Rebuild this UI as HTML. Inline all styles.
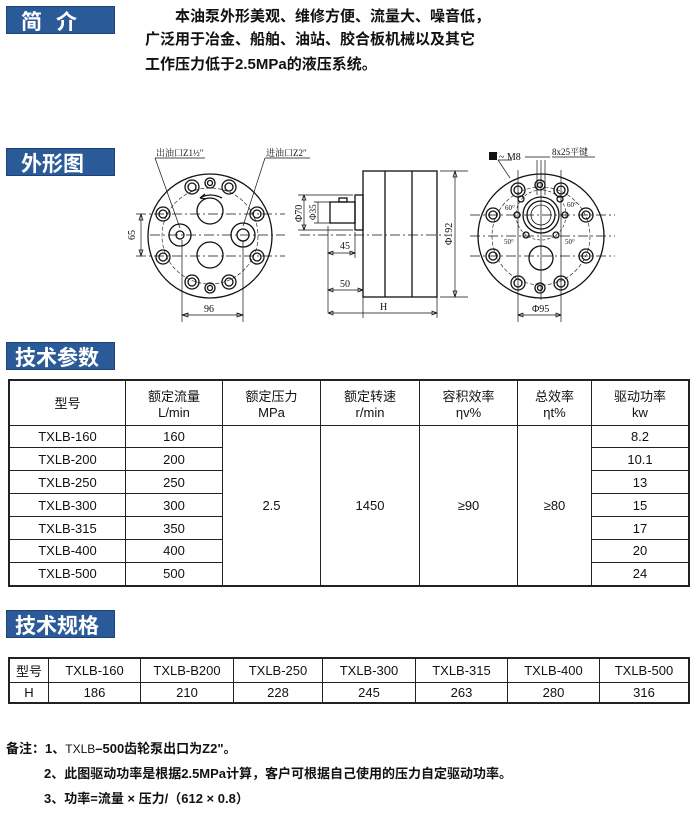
<!DOCTYPE html>
<html><head><meta charset="utf-8">
<style>
body{margin:0;background:#fff;width:700px;height:813px;position:relative;overflow:hidden;font-family:"Liberation Sans","Noto Sans CJK SC",sans-serif;color:#111}
.tt{position:absolute;left:6px;width:109px;height:28px;background:#2a5a98;color:#fff;font-weight:bold;font-size:21px;line-height:28px;font-family:"Noto Sans CJK SC",sans-serif;border:1px solid #1d4275;box-sizing:border-box}
.intro{position:absolute;font-weight:bold;font-size:15px;font-family:"Liberation Sans","Noto Sans CJK SC",sans-serif;white-space:nowrap}
table{position:absolute;border-collapse:collapse;font-size:13px}
td{border:1.5px solid #222;text-align:center;padding:0}
.note{position:absolute;font-size:13px;font-weight:bold;white-space:nowrap;font-family:"Liberation Sans","Noto Sans CJK SC",sans-serif}
</style></head><body>
<div class="tt" style="top:6px;padding-left:14px;letter-spacing:14px">简介</div>
<div class="intro" style="left:175px;top:5px">本油泵外形美观、维修方便、流量大、噪音低，</div>
<div class="intro" style="left:145px;top:28px">广泛用于冶金、船舶、油站、胶合板机械以及其它</div>
<div class="intro" style="left:145px;top:53px">工作压力低于2.5MPa的液压系统。</div>
<div class="tt" style="top:148px;padding-left:14px">外形图</div>

<svg style="position:absolute;left:0;top:0" width="700" height="340" font-family="Liberation Serif,Noto Serif CJK SC,serif" font-size="10" fill="none" stroke="#111">
<g stroke-width="1.3">
<ellipse cx="210" cy="236" rx="62" ry="62"/>
<circle cx="210" cy="236" r="48" stroke-dasharray="4 2" stroke-width="0.6"/>
<g id="bl">
<circle cx="192" cy="187" r="7"/><circle cx="192" cy="187" r="4"/>
<circle cx="229" cy="187" r="7"/><circle cx="229" cy="187" r="4"/>
<circle cx="163" cy="214" r="7"/><circle cx="163" cy="214" r="4"/>
<circle cx="257" cy="214" r="7"/><circle cx="257" cy="214" r="4"/>
<circle cx="163" cy="257" r="7"/><circle cx="163" cy="257" r="4"/>
<circle cx="257" cy="257" r="7"/><circle cx="257" cy="257" r="4"/>
<circle cx="192" cy="282" r="7"/><circle cx="192" cy="282" r="4"/>
<circle cx="229" cy="282" r="7"/><circle cx="229" cy="282" r="4"/>
<circle cx="210" cy="183" r="5"/><circle cx="210" cy="183" r="2.5"/>
<circle cx="210" cy="288" r="5"/><circle cx="210" cy="288" r="2.5"/>
</g>
<circle cx="210" cy="211" r="13"/><circle cx="210" cy="255" r="13"/>
<circle cx="180" cy="235" r="11"/><circle cx="180" cy="235" r="4"/>
<circle cx="243" cy="235" r="12"/><circle cx="243" cy="235" r="6"/>
<path d="M200 198 Q210 192 222 198" /><path d="M200 198 l5 -4 M200 198 l6 1"/>
</g>
<g stroke-width="0.7">
<path d="M136 214H285M150 235H285M136 256H285" stroke-dasharray="10 3 2 3"/>
<path d="M141 214V256M141 214l-2 6h4zM141 256l-2 -6h4z"/>
<path d="M182 240V322M243 240V322M182 315H243"/>
<path d="M182 315l6 -2v4zM243 315l-6 -2v4z"/>
<path d="M155 158H205M155 158L180 228M265 158H310M265 158L243 226"/>
</g>
<g fill="#111" stroke="none">
<text x="135" y="240" transform="rotate(-90 135 240)">65</text>
<text x="204" y="312">96</text>
<text x="156" y="156" font-size="9">出油口Z1½″</text>
<text x="266" y="156" font-size="9">进油口Z2″</text>
</g>

<!-- side view -->
<g stroke-width="1.3">
<rect x="363" y="171" width="74" height="126"/>
<path d="M385 171V297M412 171V297"/>
<rect x="355" y="195" width="8" height="35"/>
<rect x="330" y="202" width="25" height="21"/>
<rect x="339" y="198" width="8" height="4"/>
</g>
<g stroke-width="0.7">
<path d="M300 235H445" stroke-dasharray="10 3 2 3"/>
<path d="M440 171H468M440 297H468M455 171V297M455 171l-2 6h4zM455 297l-2 -6h4z"/>
<path d="M298 195H353M298 230H353M304 195V230M304 195l-2 5h4zM304 230l-2 -5h4z"/>
<path d="M314 202H330M314 223H330M318 202V223"/>
<path d="M328 226V312M355 232V258M328 253H355M328 253l5 -2v4zM355 253l-5 -2v4z"/>
<path d="M363 297V318M328 290H363M328 290l5 -2v4zM363 290l-5 -2v4z"/>
<path d="M437 297V318M328 313H437M328 313l5 -2v4zM437 313l-5 -2v4z"/>
</g>
<g fill="#111" stroke="none">
<text x="340" y="249">45</text>
<text x="340" y="287">50</text>
<text x="380" y="310">H</text>
<text x="452" y="245" transform="rotate(-90 452 245)">Φ192</text>
<text x="302" y="222" transform="rotate(-90 302 222)">Φ70</text>
<text x="316" y="220" transform="rotate(-90 316 220)" font-size="9">Φ35</text>
</g>

<!-- right view -->
<g stroke-width="1.3">
<ellipse cx="541" cy="236" rx="63" ry="62"/>
<circle cx="541" cy="236" r="49" stroke-dasharray="4 2" stroke-width="0.6"/>
<circle cx="541" cy="215" r="25" stroke-dasharray="3 2" stroke-width="0.6"/>
<g>
<circle cx="518" cy="190" r="7"/><circle cx="518" cy="190" r="4"/>
<circle cx="561" cy="190" r="7"/><circle cx="561" cy="190" r="4"/>
<circle cx="493" cy="215" r="7"/><circle cx="493" cy="215" r="4"/>
<circle cx="586" cy="215" r="7"/><circle cx="586" cy="215" r="4"/>
<circle cx="493" cy="256" r="7"/><circle cx="493" cy="256" r="4"/>
<circle cx="586" cy="256" r="7"/><circle cx="586" cy="256" r="4"/>
<circle cx="518" cy="283" r="7"/><circle cx="518" cy="283" r="4"/>
<circle cx="561" cy="283" r="7"/><circle cx="561" cy="283" r="4"/>
<circle cx="540" cy="185" r="5"/><circle cx="540" cy="185" r="2.5"/>
<circle cx="540" cy="288" r="5"/><circle cx="540" cy="288" r="2.5"/>
</g>
<circle cx="541" cy="215" r="18"/><circle cx="541" cy="215" r="14"/><circle cx="541" cy="215" r="10" stroke-width="0.8"/>
<circle cx="541" cy="258" r="12"/>
<circle cx="517" cy="215" r="3"/><circle cx="565" cy="215" r="3"/>
<circle cx="526" cy="235" r="3"/><circle cx="556" cy="235" r="3"/>
<circle cx="521" cy="199" r="3"/><circle cx="560" cy="199" r="3"/>
</g>
<g stroke-width="0.7">
<path d="M470 215H615M470 236H615M470 256H615" stroke-dasharray="10 3 2 3"/>
<path d="M541 160V300"/>
<path d="M537 160V195M545 160V195M525 157H550M552 157H595"/>
<path d="M518 170V322M561 170V322M518 315H561M518 315l5 -2v4zM561 315l-5 -2v4z"/>
<path d="M498 160L510 178M498 160H512"/>
</g>
<g fill="#111" stroke="none">
<rect x="489" y="152" width="8" height="8"/>
<text x="499" y="160">~ M8</text>
<text x="552" y="155" font-size="9">8x25平键</text>
<text x="532" y="312">Φ95</text>
<text x="505" y="210" font-size="7">60°</text><text x="567" y="207" font-size="7">60°</text>
<text x="504" y="244" font-size="7">50°</text><text x="565" y="244" font-size="7">50°</text>
</g>
</svg>

<div class="tt" style="top:342px;padding-left:8px">技术参数</div>
<table style="left:8px;top:379px;width:682px;height:208px;border:2px solid #222">
<tr style="height:45px"><td style="width:115px">型号</td><td style="width:96px">额定流量<br>L/min</td><td style="width:97px">额定压力<br>MPa</td><td style="width:98px">额定转速<br>r/min</td><td style="width:97px">容积效率<br>ηv%</td><td style="width:73px">总效率<br>ηt%</td><td>驱动功率<br>kw</td></tr>
<tr><td>TXLB-160</td><td>160</td><td rowspan="7">2.5</td><td rowspan="7">1450</td><td rowspan="7">≥90</td><td rowspan="7">≥80</td><td>8.2</td></tr>
<tr><td>TXLB-200</td><td>200</td><td>10.1</td></tr>
<tr><td>TXLB-250</td><td>250</td><td>13</td></tr>
<tr><td>TXLB-300</td><td>300</td><td>15</td></tr>
<tr><td>TXLB-315</td><td>350</td><td>17</td></tr>
<tr><td>TXLB-400</td><td>400</td><td>20</td></tr>
<tr><td>TXLB-500</td><td>500</td><td>24</td></tr>
</table>

<div class="tt" style="top:610px;padding-left:8px">技术规格</div>
<table style="left:8px;top:657px;width:682px;height:47px;border:2px solid #222">
<tr><td style="width:38px">型号</td><td style="width:91px">TXLB-160</td><td style="width:92px">TXLB-B200</td><td style="width:88px">TXLB-250</td><td style="width:92px">TXLB-300</td><td style="width:91px">TXLB-315</td><td style="width:91px">TXLB-400</td><td>TXLB-500</td></tr>
<tr><td>H</td><td>186</td><td>210</td><td>228</td><td>245</td><td>263</td><td>280</td><td>316</td></tr>
</table>

<div class="note" style="left:6px;top:738px">备注：1、<span style="font-weight:normal;font-size:12px">TXLB</span>–500齿轮泵出口为Z2"。</div>
<div class="note" style="left:44px;top:763px">2、此图驱动功率是根据2.5MPa计算，客户可根据自己使用的压力自定驱动功率。</div>
<div class="note" style="left:44px;top:788px">3、功率=流量 × 压力/（612 × 0.8）</div>
</body></html>
